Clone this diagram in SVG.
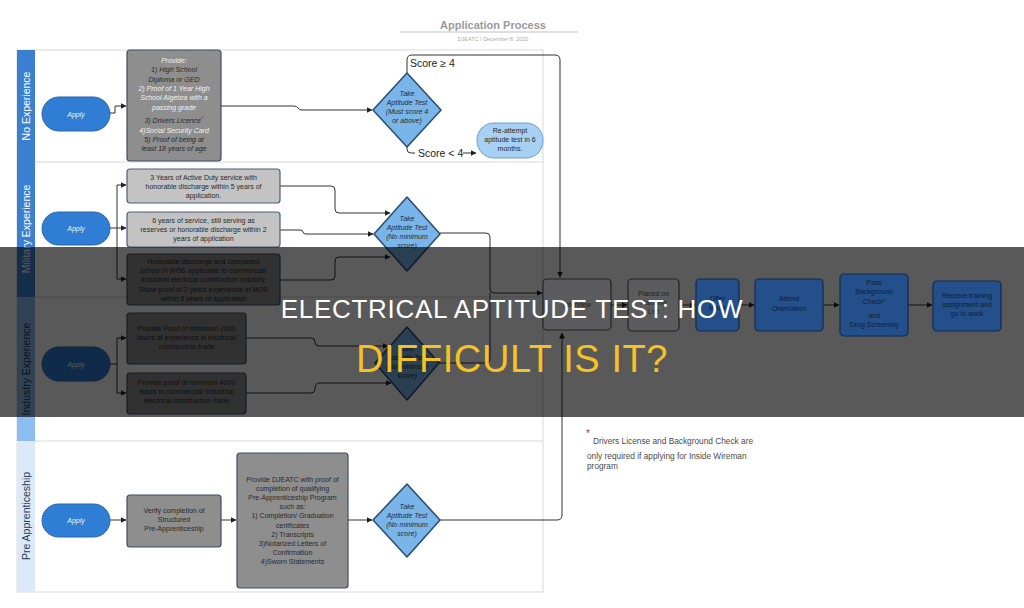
<svg xmlns="http://www.w3.org/2000/svg" width="1024" height="608" viewBox="0 0 1024 608">
<style>
.t{font-family:"Liberation Sans",Arial,sans-serif;font-size:7px;fill:#2a2a2a;text-anchor:middle}
.ti{font-style:italic}
.w{fill:#f2f2f2}
.lane{fill:none;stroke:#d9d9d9;stroke-width:1}
.pill{fill:#2f7dd5;stroke:#2a66aa;stroke-width:1}
.box{fill:#8e8e8e;stroke:#3f4d66;stroke-width:1.2}
.lbox{fill:#c3c3c3;stroke:#4d5d80;stroke-width:1.2}
.dia{fill:#79b5e8;stroke:#2c4f75;stroke-width:1.6;stroke-linejoin:round}
.gbox{fill:#5c5c5e;stroke:#232323;stroke-width:1.2}
.bbox{fill:#23508b;stroke:#122a4c;stroke-width:1.2}
.td{fill:#1e1e1e}
.tb{fill:#0e1e36}
.conn{fill:none;stroke:#333;stroke-width:1;marker-end:url(#ah)}
.line{fill:none;stroke:#333;stroke-width:1}
.lbl{font-family:"Liberation Sans",Arial,sans-serif;font-size:10.5px;fill:#222}
.ll{font-family:"Liberation Sans",Arial,sans-serif;font-size:10.5px;text-anchor:middle}
</style>
<defs>
<marker id="ah" markerWidth="6" markerHeight="6" refX="5.5" refY="3" orient="auto" markerUnits="userSpaceOnUse">
<path d="M0,0 L6,3 L0,6 z" fill="#222"/>
</marker>
</defs>
<rect width="1024" height="608" fill="#ffffff"/>

<g id="title">
<text x="493" y="29" font-family="Liberation Sans,Arial,sans-serif" font-size="11" font-weight="bold" fill="#9a9a9a" text-anchor="middle">Application Process</text>
<line x1="400" y1="32" x2="578" y2="32" stroke="#b0b0b0" stroke-width="0.8"/>
<text x="493" y="41" font-family="Liberation Sans,Arial,sans-serif" font-size="5.5" fill="#aaaaaa" text-anchor="middle">DJEATC  /  December 8, 2020</text>
</g>

<g id="lanes">
<rect x="17" y="50" width="526" height="542" class="lane"/>
<line x1="17" y1="162" x2="543" y2="162" class="lane"/>
<line x1="17" y1="297" x2="543" y2="297" class="lane"/>
<line x1="17" y1="441" x2="543" y2="441" class="lane"/>
<g id="lane-no-experience">
<rect x="17" y="50" width="18" height="112" fill="#3b80d0"/>
<text class="ll" transform="translate(30,106) rotate(-90)" fill="#ffffff">No Experience</text>
</g>
<g id="lane-military">
<rect x="17" y="162" width="18" height="135" fill="#3b80d0"/>
<text class="ll" transform="translate(30,229) rotate(-90)" fill="#ffffff">Military Experience</text>
</g>
<g id="lane-industry">
<rect x="17" y="297" width="18" height="144" fill="#8cbcf0"/>
<text class="ll" transform="translate(30,369) rotate(-90)" fill="#1e3a5c">Industry Experience</text>
</g>
<g id="lane-pre">
<rect x="17" y="441" width="18" height="151" fill="#dce9f8"/>
<text class="ll" transform="translate(30,516) rotate(-90)" fill="#2a3a55">Pre Apprenticeship</text>
</g>
</g>

<g id="connectors">
<path class="conn" d="M110,113 H115 V106 H126"/>
<path class="conn" d="M221,106 H294 Q297,106 298,108 Q299,110 302,110 H372"/>
<path class="conn" d="M407,73 V60 Q407,55 412,55 H555 Q560,55 560,60 V277"/>
<path class="conn" d="M407,147 V149 Q407,153 411,153 H476"/>
<path class="line" d="M110,228 H117 M117,185 V279"/>
<path class="conn" d="M117,185 H126"/>
<path class="conn" d="M117,228 H126"/>
<path class="conn" d="M117,279 H126"/>
<path class="conn" d="M280,186 H331 Q335,186 335,190 V209 Q335,213 339,213 H390"/>
<path class="conn" d="M280,230 H300 Q303,230 303,232 Q303,234 306,234 H373"/>
<path class="conn" d="M280,280 H331 Q335,280 335,276 V261 Q335,257 339,257 H390"/>
<path class="conn" d="M440,233 H486 Q490,233 490,237 V289 Q490,293 494,293 H542"/>
<path class="line" d="M438,363 H486 Q490,363 490,359 V293"/>
<path class="line" d="M110,364 H117 M117,338 V393"/>
<path class="conn" d="M117,338 H126"/>
<path class="conn" d="M117,393 H126"/>
<path class="conn" d="M246,338 H311 Q315,338 315,342 Q315,346 319,346 H388"/>
<path class="conn" d="M246,393 H311 Q315,393 315,389 Q315,383 319,383 H391"/>
<path class="conn" d="M110,520 H126"/>
<path class="conn" d="M221,520 H236"/>
<path class="conn" d="M348,520 H372"/>
<path class="conn" d="M440,520 H557 Q562,520 562,515 V333"/>
<path class="conn" d="M611,305 H627"/>
<path class="conn" d="M679,305 H695"/>
<path class="conn" d="M739,305 H754"/>
<path class="conn" d="M823,305 H839"/>
<path class="conn" d="M908,305 H932"/>
<rect x="415" y="147" width="48" height="11" fill="#ffffff"/>
<text class="lbl" x="410" y="67">Score ≥ 4</text>
<text class="lbl" x="418" y="157">Score &lt; 4</text>
</g>

<g id="apply-no-exp">
<rect x="42" y="97" width="68" height="34" rx="17" class="pill"/>
<text class="t ti w" x="76" y="116.5" font-size="8">Apply</text>
</g>
<g id="req-no-exp">
<rect x="127" y="50" width="94" height="111" rx="3" class="box"/>
<text class="t ti" x="174" y="63"><tspan class="w">Provide:</tspan><tspan x="174" dy="9.3">1) High School</tspan><tspan x="174" dy="9.3">Diploma or GED</tspan><tspan x="174" dy="9.3" class="w">2) Proof of 1 Year High</tspan><tspan x="174" dy="9.3" class="w">School Algebra with a</tspan><tspan x="174" dy="9.3" class="w">passing grade</tspan><tspan x="174" dy="13">3) Drivers Licence</tspan><tspan fill="#c0392b" dy="-2">*</tspan><tspan x="174" dy="12" class="w">4)Social Security Card</tspan><tspan x="174" dy="9.5">5) Proof of being at</tspan><tspan x="174" dy="9">least 18 years of age</tspan></text>
</g>
<g id="test-no-exp">
<path d="M407,73 L441,110 L407,147 L373,110 Z" class="dia"/>
<text class="t ti" x="407" y="96"><tspan>Take</tspan><tspan x="407" dy="9">Aptitude Test</tspan><tspan x="407" dy="9">(Must score 4</tspan><tspan x="407" dy="9">or above)</tspan></text>
</g>
<g id="reattempt">
<rect x="477" y="123" width="66" height="35" rx="17" fill="#a8d0f2" stroke="#6a9fcc" stroke-width="1"/>
<text class="t" x="510" y="133"><tspan>Re-attempt</tspan><tspan x="510" dy="9">aptitude test in 6</tspan><tspan x="510" dy="9">months.</tspan></text>
</g>

<g id="apply-military">
<rect x="42" y="212" width="68" height="33" rx="16.5" class="pill"/>
<text class="t ti w" x="76" y="231" font-size="8">Apply</text>
</g>
<g id="mil-a">
<rect x="127" y="169" width="153" height="34" rx="3" class="lbox"/>
<text class="t" x="203.5" y="180"><tspan>3 Years of Active Duty service with</tspan><tspan x="203.5" dy="9">honorable discharge within 5 years of</tspan><tspan x="203.5" dy="9">application.</tspan></text>
</g>
<g id="mil-b">
<rect x="127" y="212" width="153" height="35" rx="3" class="lbox"/>
<text class="t" x="203.5" y="223"><tspan>6 years of service, still serving as</tspan><tspan x="203.5" dy="9">reserves or honorable discharge within 2</tspan><tspan x="203.5" dy="9">years of application</tspan></text>
</g>
<g id="mil-c">
<rect x="127" y="254" width="153" height="51" rx="3" class="box"/>
<text class="t" x="203.5" y="264"><tspan>Honorable discharge and completed</tspan><tspan x="203.5" dy="9.2">school in MOS applicable to commercial/</tspan><tspan x="203.5" dy="9.2">industrial electrical construction industry.</tspan><tspan x="203.5" dy="9.2">Show proof of 2 years experience in MOS</tspan><tspan x="203.5" dy="9.2">within 5 years of application</tspan></text>
</g>
<g id="test-military">
<path d="M407,197 L440,234 L407,271 L374,234 Z" class="dia"/>
<text class="t ti" x="407" y="221"><tspan>Take</tspan><tspan x="407" dy="9">Aptitude Test</tspan><tspan x="407" dy="9">(No minimum</tspan><tspan x="407" dy="9">score)</tspan></text>
</g>

<g id="apply-industry">
<rect x="42" y="347" width="68" height="34" rx="17" class="pill"/>
<text class="t ti w" x="76" y="366.5" font-size="8">Apply</text>
</g>
<g id="ind-a">
<rect x="127" y="313" width="119" height="51" rx="3" class="box"/>
<text class="t" x="186.5" y="331"><tspan>Provide Proof of minimum 2000</tspan><tspan x="186.5" dy="9">hours of experience in electrical</tspan><tspan x="186.5" dy="9">construction trade</tspan></text>
</g>
<g id="ind-b">
<rect x="127" y="373" width="119" height="41" rx="3" class="box"/>
<text class="t" x="186.5" y="385"><tspan>Provide proof of minimum 4000</tspan><tspan x="186.5" dy="9">hours in commercial/ industrial</tspan><tspan x="186.5" dy="9">electrical construction trade</tspan></text>
</g>
<g id="test-industry">
<path d="M407,327 L439,363 L407,400 L375,363 Z" class="dia"/>
<text class="t ti" x="407" y="351"><tspan>Take</tspan><tspan x="407" dy="9">Aptitude Test</tspan><tspan x="407" dy="9">(No minimum</tspan><tspan x="407" dy="9">score)</tspan></text>
</g>

<g id="apply-pre">
<rect x="42" y="504" width="68" height="33" rx="16.5" class="pill"/>
<text class="t ti w" x="76" y="523" font-size="8">Apply</text>
</g>
<g id="pre-verify">
<rect x="127" y="495" width="94" height="52" rx="3" class="box"/>
<text class="t" x="174" y="513"><tspan>Verify completion of</tspan><tspan x="174" dy="9">Structured</tspan><tspan x="174" dy="9">Pre-Apprenticeship</tspan></text>
</g>
<g id="pre-provide">
<rect x="237" y="453" width="111" height="135" rx="3" class="box"/>
<text class="t" x="292.5" y="482"><tspan>Provide DJEATC with proof of</tspan><tspan x="292.5" dy="9.1">completion of qualifying</tspan><tspan x="292.5" dy="9.1">Pre-Apprenticeship Program</tspan><tspan x="292.5" dy="9.1">such as:</tspan><tspan x="292.5" dy="9.1">1) Completion/ Graduation</tspan><tspan x="292.5" dy="9.1">certificates</tspan><tspan x="292.5" dy="9.1">2) Transcripts</tspan><tspan x="292.5" dy="9.1">3)Notarized Letters of</tspan><tspan x="292.5" dy="9.1">Confirmation</tspan><tspan x="292.5" dy="9.1">4)Sworn Statements</tspan></text>
</g>
<g id="test-pre">
<path d="M407,484 L440,520 L407,557 L373,520 Z" class="dia"/>
<text class="t ti" x="407" y="509"><tspan>Take</tspan><tspan x="407" dy="9">Aptitude Test</tspan><tspan x="407" dy="9">(No minimum</tspan><tspan x="407" dy="9">score)</tspan></text>
</g>

<g id="note">
<text x="586" y="437" font-family="Liberation Sans,Arial,sans-serif" font-size="10" fill="#8a4a6a">*</text>
<text x="593" y="444" font-family="Liberation Sans,Arial,sans-serif" font-size="8.3" fill="#4a4a4a">Drivers License and Background Check are</text>
<text x="587" y="459" font-family="Liberation Sans,Arial,sans-serif" font-size="8.3" fill="#4a4a4a">only required if applying for Inside Wireman</text>
<text x="587" y="469" font-family="Liberation Sans,Arial,sans-serif" font-size="8.3" fill="#4a4a4a">program</text>
</g>

<rect id="shade" x="0" y="247" width="1024" height="170" fill="#000000" opacity="0.65"/>

<g id="interview">
<rect x="543" y="279" width="68" height="51" rx="4" class="gbox"/>
<text class="t td" x="577" y="307">Interview</text>
</g>
<g id="ranking">
<rect x="628" y="279" width="51" height="52" rx="4" class="gbox"/>
<text class="t td" x="653.5" y="296"><tspan>Placed on</tspan><tspan x="653.5" dy="9">Ranking</tspan><tspan x="653.5" dy="9">List</tspan></text>
</g>
<g id="offer">
<rect x="696" y="279" width="43" height="52" rx="4" class="bbox"/>
<text class="t tb" x="717.5" y="301"><tspan>Offer</tspan><tspan x="717.5" dy="9">Made</tspan></text>
</g>
<g id="orientation">
<rect x="755" y="279" width="68" height="52" rx="4" class="bbox"/>
<text class="t tb" x="789" y="301"><tspan>Attend</tspan><tspan x="789" dy="9.5">Orientation</tspan></text>
</g>
<g id="background">
<rect x="840" y="274" width="68" height="62" rx="4" class="bbox"/>
<text class="t tb" x="874" y="285"><tspan>Pass</tspan><tspan x="874" dy="9">Background</tspan><tspan x="874" dy="10">Check*</tspan><tspan x="874" dy="14">and</tspan><tspan x="874" dy="8.5">Drug Screening</tspan></text>
</g>
<g id="work">
<rect x="933" y="281" width="68" height="50" rx="4" class="bbox"/>
<text class="t tb" x="967" y="298"><tspan>Receive training</tspan><tspan x="967" dy="8.8">assignment and</tspan><tspan x="967" dy="8.8">go to work</tspan></text>
</g>

<g id="banner">
<text x="512" y="318" font-family="Liberation Sans,Arial,sans-serif" font-size="26" letter-spacing="0.7" fill="#ffffff" text-anchor="middle">ELECTRICAL APTITUDE TEST: HOW</text>
<text x="512" y="372" font-family="Liberation Sans,Arial,sans-serif" font-size="38" letter-spacing="0.6" fill="#f5c226" text-anchor="middle">DIFFICULT IS IT?</text>
</g>
</svg>
